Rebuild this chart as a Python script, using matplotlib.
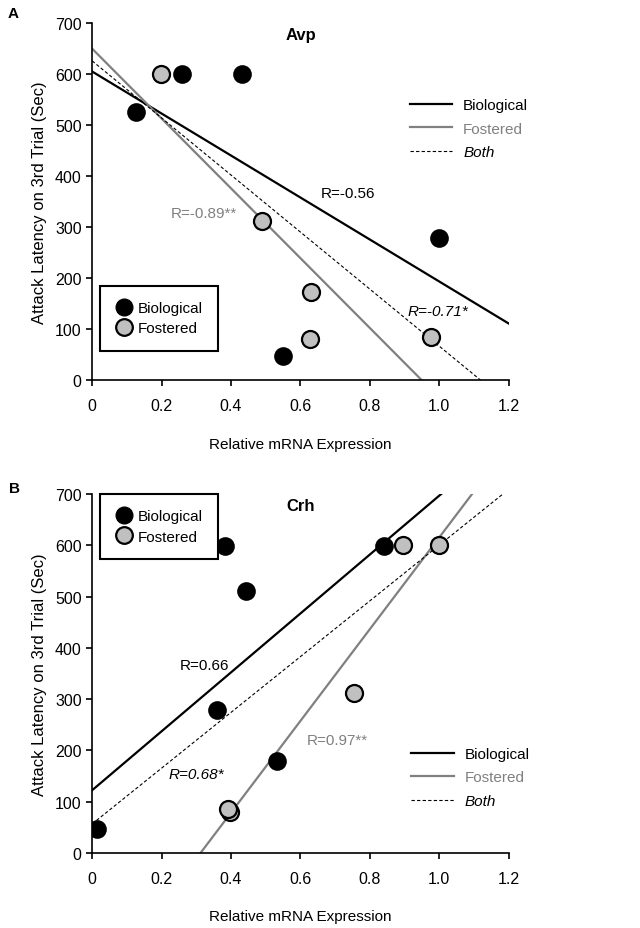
import numpy as np
import matplotlib
matplotlib.use("Agg")
import matplotlib.pyplot as plt
from matplotlib.lines import Line2D

plt.rcParams['font.family'] = ['Liberation Sans', 'DejaVu Sans']

# Panel A: Avp
avp_bio_x = [0.127, 0.26, 0.432, 0.55, 1.0]
avp_bio_y = [525, 600, 600, 46, 278]
avp_fos_x = [0.197, 0.49, 0.629, 0.626, 0.976]
avp_fos_y = [600, 312, 173, 80, 85]
avp_r = ['R=-0.56', 'R=-0.89**', 'R=-0.71*']

# Panel B: Crh
crh_bio_x = [0.014, 0.384, 0.443, 0.36, 0.532, 0.841]
crh_bio_y = [47, 599, 510, 278, 180, 599]
crh_fos_x = [0.894, 0.999, 0.755, 0.398, 0.39]
crh_fos_y = [600, 600, 312, 80, 86]
crh_r = ['R=0.66', 'R=0.97**', 'R=0.68*']

xticks = [0, 0.2, 0.4, 0.6, 0.8, 1.0, 1.2]
xticklabels = ['0', '0.2', '0.4', '0.6', '0.8', '1.0', '1.2']
yticks = [0, 100, 200, 300, 400, 500, 600, 700]

GRAY_LINE = '#808080'
GRAY_FILL = '#c0c0c0'


def draw_panel(ax, bx, by, fx, fy, title, rtexts, rpos, line_leg_pos, mark_leg_pos):
    xs = np.linspace(0, 1.2, 200)
    pb = np.polyfit(bx, by, 1)
    pf = np.polyfit(fx, fy, 1)
    pa = np.polyfit(list(bx) + list(fx), list(by) + list(fy), 1)
    ax.plot(xs, np.polyval(pb, xs), color='black', lw=1.6, zorder=2)
    ax.plot(xs, np.polyval(pf, xs), color=GRAY_LINE, lw=1.6, zorder=2)
    ax.plot(xs, np.polyval(pa, xs), color='black', lw=0.8, ls=(0, (3, 2)), zorder=2)

    ax.scatter(bx, by, s=150, color='black', edgecolor='black', lw=1.2, zorder=3)
    ax.scatter(fx, fy, s=150, color=GRAY_FILL, edgecolor='black', lw=1.6, zorder=3)

    ax.set_xlim(0, 1.2)
    ax.set_ylim(0, 700)
    ax.set_xticks(xticks)
    ax.set_xticklabels(xticklabels)
    ax.set_yticks(yticks)
    ax.tick_params(labelsize=11.5, length=4, width=1.2, color='black')
    ax.tick_params(axis='x', pad=9)
    ax.spines['top'].set_visible(False)
    ax.spines['right'].set_visible(False)
    ax.spines['left'].set_linewidth(1.2)
    ax.spines['bottom'].set_linewidth(1.2)
    ax.set_ylabel('Attack Latency on 3rd Trial (Sec)', fontsize=12, labelpad=6)
    ax.set_xlabel('Relative mRNA Expression', fontsize=11, labelpad=17)
    ax.text(0.6, 678, title, fontsize=12, fontweight='bold', ha='center', va='center')

    ax.text(rpos[0][0], rpos[0][1], rtexts[0], fontsize=11, color='black', ha='center', va='center')
    ax.text(rpos[1][0], rpos[1][1], rtexts[1], fontsize=11, color=GRAY_LINE, ha='center', va='center')
    ax.text(rpos[2][0], rpos[2][1], rtexts[2], fontsize=11, color='black', style='italic',
            ha='center', va='center')

    line_handles = [Line2D([], [], color='black', lw=1.6),
                    Line2D([], [], color=GRAY_LINE, lw=1.6),
                    Line2D([], [], color='black', lw=0.8, ls=(0, (3, 2)))]
    leg1 = ax.legend(line_handles, ['Biological', 'Fostered', 'Both'], loc='upper left',
                     bbox_to_anchor=line_leg_pos, frameon=False, fontsize=11,
                     handlelength=2.8, handletextpad=0.7, labelspacing=0.62, borderpad=0,
                     borderaxespad=0)
    leg1.get_texts()[1].set_color(GRAY_LINE)
    leg1.get_texts()[2].set_style('italic')
    leg1.set_clip_on(False)
    ax.add_artist(leg1)

    mark_handles = [Line2D([], [], ls='', marker='o', ms=12, mfc='black', mec='black'),
                    Line2D([], [], ls='', marker='o', ms=12, mfc=GRAY_FILL, mec='black', mew=1.6)]
    leg2 = ax.legend(mark_handles, ['Biological', 'Fostered'], loc=mark_leg_pos[0],
                     bbox_to_anchor=mark_leg_pos[1], fontsize=11, fancybox=False,
                     edgecolor='black', framealpha=1, handletextpad=0.3,
                     labelspacing=0.4, borderpad=1.0, handlelength=1.2, borderaxespad=0)
    leg2.get_frame().set_linewidth(1.5)


fig = plt.figure(figsize=(6.4, 9.29), dpi=100)
ax1 = fig.add_axes([0.144, 0.590, 0.651, 0.384])
ax2 = fig.add_axes([0.144, 0.081, 0.651, 0.386])

draw_panel(ax1, avp_bio_x, avp_bio_y, avp_fos_x, avp_fos_y, 'Avp', avp_r,
           [(0.737, 366), (0.321, 327), (0.996, 135)],
           (0.762, 0.79), ('lower left', (0.018, 0.082)))
draw_panel(ax2, crh_bio_x, crh_bio_y, crh_fos_x, crh_fos_y, 'Crh', crh_r,
           [(0.323, 367), (0.707, 221), (0.30, 153)],
           (0.765, 0.295), ('upper left', (0.018, 1.0)))

fig.text(0.012, 0.985, 'A', fontsize=11, fontweight='bold', va='center')
fig.text(0.014, 0.474, 'B', fontsize=11, fontweight='bold', va='center')

fig.savefig('out.png', dpi=100)
